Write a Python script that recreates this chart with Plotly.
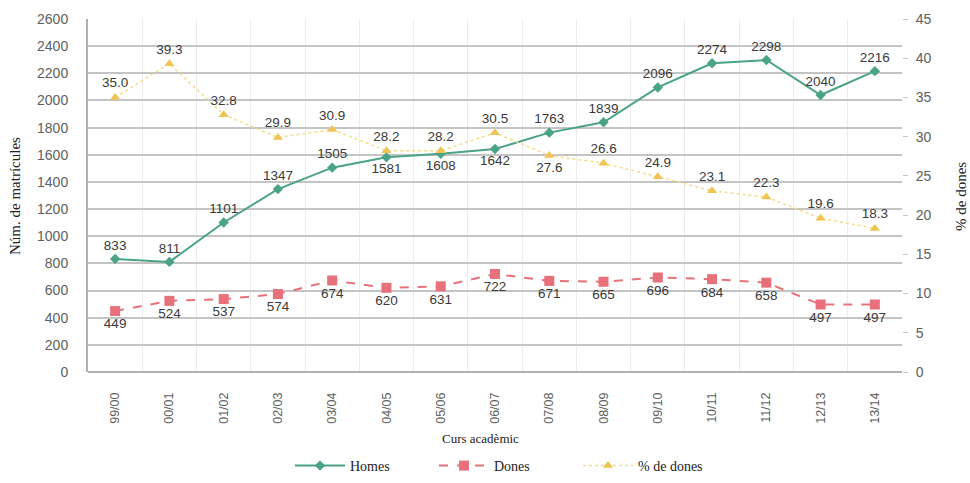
import plotly.graph_objects as go

cursos = ["99/00", "00/01", "01/02", "02/03", "03/04", "04/05", "05/06", "06/07",
          "07/08", "08/09", "09/10", "10/11", "11/12", "12/13", "13/14"]
homes = [833, 811, 1101, 1347, 1505, 1581, 1608, 1642, 1763, 1839, 2096, 2274, 2298, 2040, 2216]
dones = [449, 524, 537, 574, 674, 620, 631, 722, 671, 665, 696, 684, 658, 497, 497]
pct_dones = [35.0, 39.3, 32.8, 29.9, 30.9, 28.2, 28.2, 30.5, 27.6, 26.6, 24.9, 23.1, 22.3, 19.6, 18.3]

homes_pos = ["top center"] * 5 + ["bottom center"] * 3 + ["top center"] * 7
dones_pos = ["bottom center"] * 15
pct_pos = ["top center"] * 8 + ["bottom center"] + ["top center"] * 6

sans = "Liberation Sans, Arial, sans-serif"
lab_font = dict(family=sans, size=13.5, color="#3a3a3a")
ytick_font = dict(family=sans, size=14, color="#606060")
xtick_font = dict(family=sans, size=12.5, color="#606060")
serif = "Liberation Serif, DejaVu Serif, serif"

L, R, T, B = 88, 68, 19, 111
W, H = 970, 483
pw = W - L - R
ph = H - T - B


def px(x):
    return (x - L) / pw


def py(y):
    return (H - B - y) / ph


fig = go.Figure()
fig.add_trace(go.Scatter(
    x=cursos, y=homes, name="Homes", mode="lines+markers+text",
    line=dict(color="#4aa384", width=2),
    marker=dict(symbol="diamond", size=8, color="#4aa384"),
    text=[str(v) for v in homes], textposition=homes_pos, textfont=lab_font,
))
fig.add_trace(go.Scatter(
    x=cursos, y=dones, name="Dones", mode="lines+markers+text",
    line=dict(color="#e8727a", width=2, dash="dash"),
    marker=dict(symbol="square", size=10, color="#e8707a"),
    text=[str(v) for v in dones], textposition=dones_pos, textfont=lab_font,
))
fig.add_trace(go.Scatter(
    x=cursos, y=pct_dones, name="% de dones", mode="lines+markers+text", yaxis="y2",
    line=dict(color="#f7dc8a", width=1.5, dash="dot"),
    marker=dict(symbol="triangle-up", size=9, color="#efc452"),
    text=[f"{v:.1f}" for v in pct_dones], textposition=pct_pos, textfont=lab_font,
))

fig.update_layout(
    width=W, height=H,
    margin=dict(l=L, r=R, t=T, b=B, autoexpand=False),
    paper_bgcolor="white", plot_bgcolor="white",
    showlegend=True,
    legend=dict(orientation="h", x=px(290), xanchor="left", y=py(466), yanchor="middle",
                font=dict(family=serif, size=14, color="#222222"),
                itemwidth=50, entrywidth=79, tracegroupgap=0),
    xaxis=dict(
        type="category", range=[-0.5, 14.5], tickangle=-90, tickfont=xtick_font,
        tickson="boundaries", showgrid=True, gridcolor="#ececec", gridwidth=1,
        ticks="", showline=False, zeroline=False, automargin=False,
        ticklabelstandoff=17,
    ),
    yaxis=dict(
        range=[0, 2600], dtick=200, tickfont=ytick_font,
        showgrid=True, gridcolor="#c4c4c4", gridwidth=1.5,
        showline=True, linecolor="#b0b0b0", linewidth=2,
        zeroline=True, zerolinecolor="#b0b0b0", zerolinewidth=2,
        ticks="", automargin=False, ticklabelstandoff=15,
    ),
    yaxis2=dict(
        range=[0, 45], dtick=5, overlaying="y", side="right", tickfont=ytick_font,
        showgrid=False, ticks="outside", ticklen=5, tickcolor="#c8c8c8", tickwidth=1,
        showline=False, zeroline=False, automargin=False, ticklabelstandoff=5,
    ),
    annotations=[
        dict(text="Núm. de matrícules", x=px(15), y=py(196), xref="paper", yref="paper",
             xanchor="center", yanchor="middle",
             showarrow=False, textangle=-90, font=dict(family=serif, size=15, color="#222222")),
        dict(text="% de dones", x=px(961), y=py(196), xref="paper", yref="paper",
             xanchor="center", yanchor="middle",
             showarrow=False, textangle=-90, font=dict(family=serif, size=15, color="#222222")),
        dict(text="Curs acadèmic", x=px(480), y=py(438), xref="paper", yref="paper",
             xanchor="center", yanchor="middle",
             showarrow=False, font=dict(family=serif, size=13, color="#222222")),
    ],
)

fig.write_html("out.html", post_script="document.body.style.margin='0';",
               config={"displayModeBar": False})
